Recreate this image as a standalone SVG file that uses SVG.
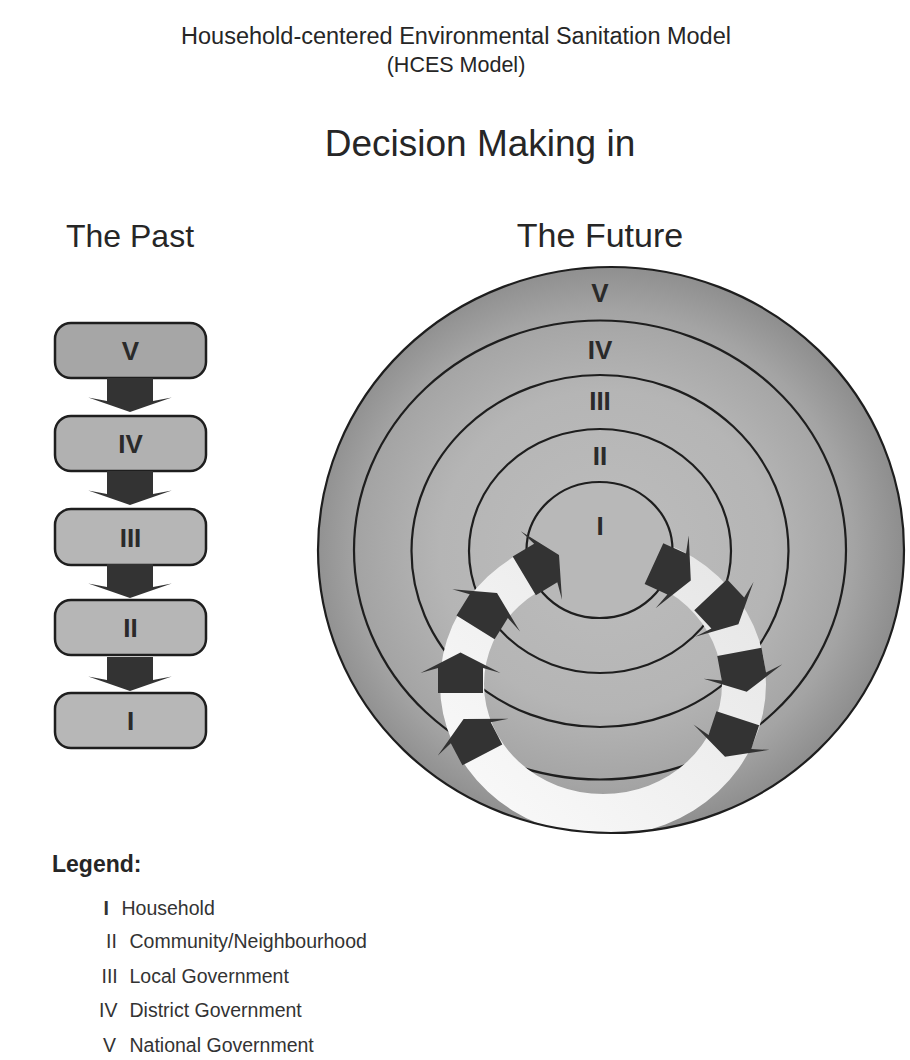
<svg xmlns="http://www.w3.org/2000/svg" width="910" height="1060" viewBox="0 0 910 1060">
<defs>
<style>
.t{font-family:"Liberation Sans",Arial,sans-serif;fill:#262626}
.nb{font-family:"Liberation Sans",Arial,sans-serif;font-weight:bold;fill:#2a2a2a;font-size:26px;text-anchor:middle}
.ln{fill:none;stroke:#1e1e1e;stroke-width:2.2}
.box{stroke:#1e1e1e;stroke-width:2.5}
.arr{fill:#333333}
.lg{font-family:"Liberation Sans",Arial,sans-serif;font-size:19.5px;fill:#333}
</style>
<radialGradient id="bg" gradientUnits="userSpaceOnUse" cx="606" cy="550" r="290" gradientTransform="translate(606 550) scale(1.04 1) translate(-606 -550)">
<stop offset="0" stop-color="#bdbdbd"/>
<stop offset="0.55" stop-color="#b5b5b5"/>
<stop offset="0.82" stop-color="#a4a4a4"/>
<stop offset="1" stop-color="#8c8c8c"/>
</radialGradient>
<radialGradient id="rim" cx="0.5" cy="0.5" r="0.5">
<stop offset="0.75" stop-color="#000" stop-opacity="0"/>
<stop offset="1" stop-color="#000" stop-opacity="0.07"/>
</radialGradient>
<linearGradient id="ringg" x1="0" y1="1" x2="1" y2="0">
<stop offset="0" stop-color="#fbfbfb"/>
<stop offset="1" stop-color="#e4e4e4"/>
</linearGradient>
<clipPath id="outerclip"><ellipse cx="611" cy="550" rx="293" ry="283"/></clipPath>
<path id="ra" d="M0,0 L40,20.5 L22.5,15.5 L22.5,40.5 L-22.5,40.5 L-22.5,15.5 L-40,20.5 Z"/>
<path id="da" d="M0,0 L41.7,-14.6 L23,-11 L23,-34 L-23,-34 L-23,-11 L-41.7,-14.6 Z"/>
</defs>
<rect width="910" height="1060" fill="#ffffff"/>

<g id="titles">
<text class="t" x="456" y="44" font-size="23.5" text-anchor="middle">Household-centered Environmental Sanitation Model</text>
<text class="t" x="456" y="72" font-size="21.5" text-anchor="middle">(HCES Model)</text>
<text class="t" x="480" y="156" font-size="37" text-anchor="middle">Decision Making in</text>
<text class="t" x="130" y="247" font-size="32" text-anchor="middle">The Past</text>
<text class="t" x="600" y="247" font-size="34" text-anchor="middle">The Future</text>
</g>

<g id="past">
<g id="past-V"><rect class="box" x="55" y="323" width="151" height="55" rx="16" fill="#a6a6a6"/><text class="nb" x="130.5" y="360">V</text></g>
<g id="past-IV"><rect class="box" x="55" y="416" width="151" height="55" rx="16" fill="#b1b1b1"/><text class="nb" x="130.5" y="453">IV</text></g>
<g id="past-III"><rect class="box" x="55" y="509" width="151" height="56" rx="16" fill="#b6b6b6"/><text class="nb" x="130.5" y="546.5">III</text></g>
<g id="past-II"><rect class="box" x="55" y="600" width="151" height="55" rx="16" fill="#b6b6b6"/><text class="nb" x="130.5" y="637">II</text></g>
<g id="past-I"><rect class="box" x="55" y="693" width="151" height="55" rx="16" fill="#b7b7b7"/><text class="nb" x="130.5" y="730">I</text></g>
</g>

<g id="future">
<g id="ring-V"><ellipse cx="611" cy="550" rx="293" ry="283" fill="url(#bg)"/></g>
<g id="ring-IV"><ellipse cx="600" cy="550" rx="246" ry="229.5" fill="url(#rim)" class="ln"/></g>
<g id="ring-III"><ellipse cx="600" cy="551" rx="188.5" ry="176" fill="url(#rim)" class="ln"/></g>
<g id="ring-II"><ellipse cx="600" cy="551" rx="131" ry="122" fill="url(#rim)" class="ln"/></g>
<g id="cycle-band" clip-path="url(#outerclip)">
<path fill="url(#ringg)" fill-rule="evenodd" d="M440,684 A163,152 0 1 0 766,684 A163,152 0 1 0 440,684 Z M484,684 A119,110 0 1 1 722,684 A119,110 0 1 1 484,684 Z"/>
</g>
<ellipse cx="611" cy="550" rx="293" ry="283" class="ln"/>
<g id="ring-I"><ellipse cx="599.5" cy="550" rx="73" ry="68" fill="#b8b8b8" stroke="#1e1e1e" stroke-width="2.2"/></g>
<text class="nb" x="600" y="302">V</text>
<text class="nb" x="600" y="359">IV</text>
<text class="nb" x="600" y="410">III</text>
<text class="nb" x="600" y="465">II</text>
<text class="nb" x="600" y="535">I</text>
</g>

<g id="connectors">
<use href="#da" class="arr" transform="translate(130 412)"/>
<use href="#da" class="arr" transform="translate(130 505)"/>
<use href="#da" class="arr" transform="translate(130 598)"/>
<use href="#da" class="arr" transform="translate(130 691)"/>
<use href="#ra" class="arr" transform="translate(559 555) rotate(59)"/>
<use href="#ra" class="arr" transform="translate(497 593) rotate(32)"/>
<use href="#ra" class="arr" transform="translate(460.5 652.5)"/>
<use href="#ra" class="arr" transform="translate(463.6 719) rotate(-27.6)"/>
<use href="#ra" class="arr" transform="translate(690.8 580.4) rotate(114.5)"/>
<use href="#ra" class="arr" transform="translate(738.4 624.3) rotate(136.8)"/>
<use href="#ra" class="arr" transform="translate(746.7 691.7) rotate(169.6)"/>
<use href="#ra" class="arr" transform="translate(725 756.7) rotate(-161.6)"/>
</g>

<g id="legend">
<text class="t" x="52" y="872" font-size="23" font-weight="bold">Legend:</text>
<text class="lg" x="103.5" y="914.5" font-weight="bold">I</text><text class="lg" x="121.5" y="914.5">Household</text>
<text class="lg" x="106" y="948">II</text><text class="lg" x="129.5" y="948">Community/Neighbourhood</text>
<text class="lg" x="101.5" y="982.5">III</text><text class="lg" x="129.5" y="982.5">Local Government</text>
<text class="lg" x="99" y="1017">IV</text><text class="lg" x="129.5" y="1017">District Government</text>
<text class="lg" x="103" y="1052">V</text><text class="lg" x="129.5" y="1052">National Government</text>
</g>
</svg>
